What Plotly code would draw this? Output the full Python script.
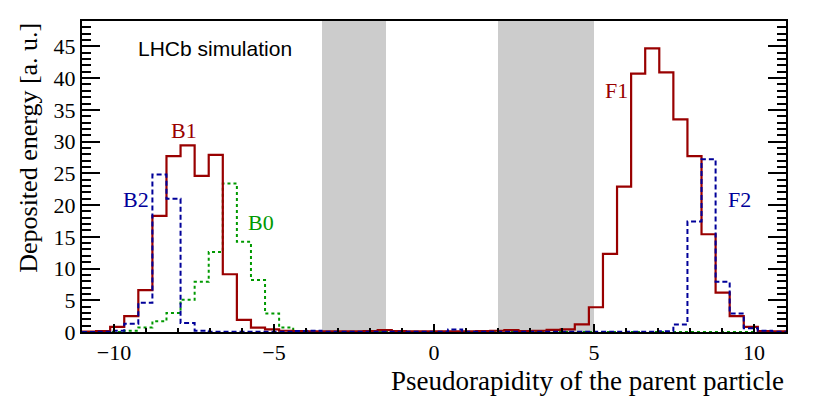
import numpy as np
import plotly.graph_objects as go

# ── data ─────────────────────────────────────────────────────────────────────
# 50 equal bins from -11 to 11
bin_edges = np.linspace(-11, 11, 51)

red_counts = [
    0.05, 0.15, 0.8, 2.5, 6.6, 18.3, 27.7, 29.4, 24.6, 27.9,
    9.1, 1.9, 0.7, 0.4, 0.2, 0.15, 0.1, 0.1, 0.1, 0.1,
    0.15, 0.3, 0.15, 0.1, 0.1, 0.1, 0.1, 0.1, 0.15, 0.2,
    0.3, 0.15, 0.2, 0.35, 0.4, 1.2, 3.9, 12.3, 22.9, 40.7,
    44.7, 40.9, 33.5, 27.7, 15.4, 6.2, 2.5, 0.8, 0.15, 0.1,
]
blue_counts = [
    0.0, 0.05, 0.2, 1.3, 4.6, 24.8, 21.0, 1.4, 0.2, 0.05,
    0.05, 0.05, 0.05, 0.05, 0.05, 0.15, 0.2, 0.05, 0.05, 0.05,
    0.05, 0.05, 0.05, 0.05, 0.05, 0.05, 0.4, 0.05, 0.05, 0.05,
    0.05, 0.05, 0.05, 0.05, 0.05, 0.05, 0.05, 0.05, 0.05, 0.05,
    0.05, 0.1, 1.2, 17.4, 27.2, 7.9, 2.9, 0.6, 0.2, 0.05,
]
green_counts = [
    0.0, 0.0, 0.0, 0.2, 0.7, 1.7, 3.0, 5.1, 7.9, 12.6,
    23.4, 14.2, 8.2, 2.9, 0.7, 0.15, 0.05, 0.0, 0.0, 0.0,
    0.0, 0.0, 0.0, 0.0, 0.0, 0.0, 0.0, 0.0, 0.0, 0.0,
    0.0, 0.0, 0.0, 0.0, 0.0, 0.0, 0.0, 0.0, 0.0, 0.0,
    0.0, 0.0, 0.0, 0.0, 0.0, 0.0, 0.0, 0.0, 0.0, 0.0,
]

# uninstrumented pseudorapidity regions
gray_bands = [(-3.5, -1.5), (2.0, 5.0)]

RED = "#990000"
BLUE = "#000099"
GREEN = "#009900"
SERIF = "Liberation Serif"
SANS = "Liberation Sans"

# label, x, y, colour
labels = [
    ("B1", -7.8, 31.7, RED),
    ("B2", -9.3, 20.8, BLUE),
    ("B0", -5.4, 17.2, GREEN),
    ("F1", 5.7, 38.1, RED),
    ("F2", 9.55, 20.8, BLUE),
]


def step_trace(counts, color, dash, width):
    x = list(bin_edges)
    y = list(counts) + [counts[-1]]
    return go.Scatter(
        x=x, y=y, mode="lines",
        line=dict(color=color, width=width, dash=dash, shape="hv"),
        hoverinfo="skip", showlegend=False,
    )


fig = go.Figure()
for lo, hi in gray_bands:
    fig.add_vrect(x0=lo, x1=hi, fillcolor="#CCCCCC", opacity=1,
                  line_width=0, layer="below")

fig.add_trace(step_trace(green_counts, GREEN, "dot", 2))
fig.add_trace(step_trace(red_counts, RED, "solid", 2.2))
fig.add_trace(step_trace(blue_counts, BLUE, "5px,3px", 2))

for text, x, y, color in labels:
    fig.add_annotation(x=x, y=y, text=text, showarrow=False,
                       font=dict(family=SERIF, size=22, color=color))

fig.add_annotation(x=-9.3, y=44.6, text="LHCb simulation", showarrow=False,
                   xanchor="left", font=dict(family=SANS, size=21, color="black"))

# ROOT-style axis titles, aligned to the end of the axis
fig.add_annotation(xref="paper", yref="paper", x=1, y=-0.156,
                   text="Pseudorapidity of the parent particle", showarrow=False,
                   xanchor="right", yanchor="middle",
                   font=dict(family=SERIF, size=27, color="black"))
fig.add_annotation(xref="paper", yref="paper", x=-0.077, y=1.0,
                   text="Deposited energy [a. u.]", showarrow=False, textangle=-90,
                   xanchor="center", yanchor="top",
                   font=dict(family=SERIF, size=26, color="black"))

axis_common = dict(
    showline=True, linecolor="black", linewidth=2,
    showgrid=False, zeroline=False,
    ticks="inside", tickcolor="black", tickwidth=1.5,
    tickfont=dict(family=SERIF, size=22, color="black"),
)
fig.update_xaxes(
    range=[-11, 11], tick0=0, dtick=5, ticklen=8, mirror=True,
    minor=dict(dtick=1, ticks="inside", ticklen=4, tickcolor="black", tickwidth=1.5),
    **axis_common,
)
fig.update_yaxes(
    range=[0, 49], tick0=0, dtick=5, ticklen=18, mirror="allticks",
    minor=dict(dtick=1, ticks="inside", ticklen=9, tickcolor="black", tickwidth=1.5),
    **axis_common,
)

# page body adds an 8px offset, so the figure is drawn 8px smaller
fig.update_layout(
    width=820, height=389, autosize=False,
    margin=dict(l=74, r=42, t=11, b=65),
    plot_bgcolor="white", paper_bgcolor="white",
    showlegend=False,
)

fig.write_html("out.html")
